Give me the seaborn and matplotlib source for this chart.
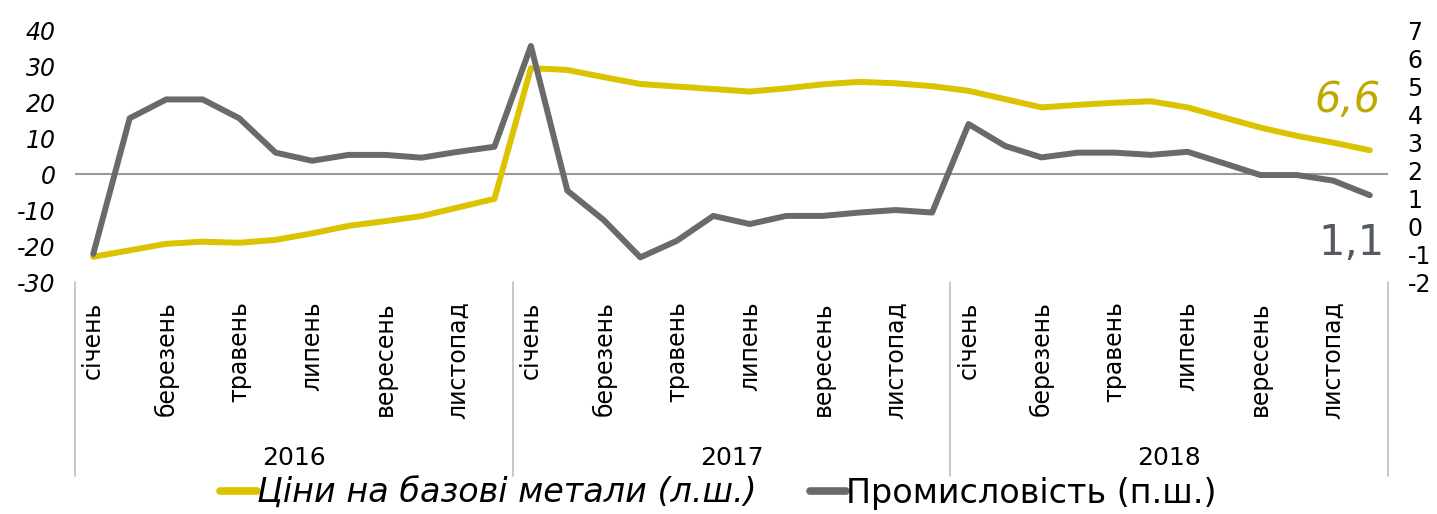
import numpy as np
import pandas as pd
import seaborn as sns
import matplotlib.pyplot as plt
import matplotlib.transforms as mtransforms
from matplotlib import font_manager

# --- DATEN ---
years = ["2016", "2017", "2018"]
month_labels = ["січень", "", "березень", "", "травень", "", "липень", "",
                "вересень", "", "листопад", ""]

metals = [-23.0, -21.2, -19.4, -18.8, -19.1, -18.3, -16.5, -14.4, -13.1, -11.7, -9.3, -6.9,
          29.4, 28.9, 26.9, 25.0, 24.3, 23.6, 22.9, 23.8, 24.9, 25.6, 25.2, 24.4,
          23.1, 20.8, 18.5, 19.2, 19.8, 20.2, 18.5, 15.7, 12.9, 10.6, 8.7, 6.6]
industry = [-1.0, 3.85, 4.52, 4.52, 3.85, 2.62, 2.33, 2.54, 2.54, 2.44, 2.65, 2.83,
            6.43, 1.26, 0.21, -1.12, -0.53, 0.36, 0.07, 0.36, 0.36, 0.48, 0.57, 0.48,
            3.64, 2.86, 2.45, 2.62, 2.62, 2.54, 2.65, 2.24, 1.82, 1.82, 1.62, 1.1]

label_metals = "Ціни на базові метали (л.ш.)"
label_industry = "Промисловість (п.ш.)"

YELLOW = "#dbc300"
GREY = "#6b6a69"

sns.set_theme(style="white")
installed = {f.name for f in font_manager.fontManager.ttflist}
base_font = "Liberation Sans Narrow" if "Liberation Sans Narrow" in installed else "DejaVu Sans"
plt.rcParams['font.family'] = [base_font, "DejaVu Sans"]
plt.rcParams['text.color'] = "black"
plt.rcParams['xtick.color'] = "black"
plt.rcParams['ytick.color'] = "black"

df = pd.DataFrame({"idx": np.arange(len(metals)), "metals": metals, "industry": industry})

fig = plt.figure(figsize=(14.37, 5.14), dpi=100)
ax = fig.add_axes([75 / 1437, 1 - 282 / 514, (1388 - 75) / 1437, 252 / 514])
ax2 = ax.twinx()

sns.lineplot(data=df, x="idx", y="metals", ax=ax, color=YELLOW, linewidth=4.3,
             label=label_metals, legend=False)
sns.lineplot(data=df, x="idx", y="industry", ax=ax2, color=GREY, linewidth=4.3,
             label=label_industry, legend=False)

ax.set_xlim(-0.5, 35.5)
ax.set_ylim(-30, 40)
ax2.set_ylim(-2, 7)
ax.axhline(0, color="#9a9a9a", linewidth=1.5, zorder=0)

for a in (ax, ax2):
    for s in a.spines.values():
        s.set_visible(False)
    a.set_xlabel("")
    a.set_ylabel("")
    a.grid(False)

ax.set_yticks(range(-30, 41, 10))
ax.set_yticklabels([str(v) for v in range(-30, 41, 10)], fontsize=17, style="italic")
ax.tick_params(axis="y", length=0, pad=14)
ax2.set_yticks(range(-2, 8))
ax2.set_yticklabels([str(v) for v in range(-2, 8)], fontsize=17)
ax2.tick_params(axis="y", length=0, pad=14)

# Monatsbeschriftungen
ax.set_xticks(range(36))
ax.set_xticklabels(month_labels * 3, rotation=90, fontsize=17, va="top")
ax.tick_params(axis="x", length=0, pad=14)

# Jahres-Trenner und Jahreslabels
trans = mtransforms.blended_transform_factory(ax.transData, ax.transAxes)
for xs in [-0.5, 11.5, 23.5, 35.5]:
    ax.plot([xs, xs], [0, -0.77], transform=trans, color="#bdbdbd", linewidth=1.2, clip_on=False)
for i, y in enumerate(years):
    ax.text(5.5 + 12 * i, -0.70, y, transform=trans, ha="center", va="center", fontsize=18)

# Endwerte
ax.text(35.3, 20.5, "6,6", color="#bfa900", fontsize=30, style="italic", ha="right", va="center")
ax2.text(35.4, -0.6, "1,1", color="#555a60", fontsize=30, ha="right", va="center")

# Legende unten
h1, l1 = ax.get_legend_handles_labels()
h2, l2 = ax2.get_legend_handles_labels()
leg = fig.legend(h1 + h2, l1 + l2, loc="center", bbox_to_anchor=(0.5, 1 - 493 / 514), ncol=2,
                 frameon=False, fontsize=24, handlelength=1.1, handletextpad=0.0, columnspacing=1.6)
leg.get_texts()[0].set_style("italic")
for line in leg.get_lines():
    line.set_linewidth(5.5)

fig.savefig("out.png", dpi=100)
